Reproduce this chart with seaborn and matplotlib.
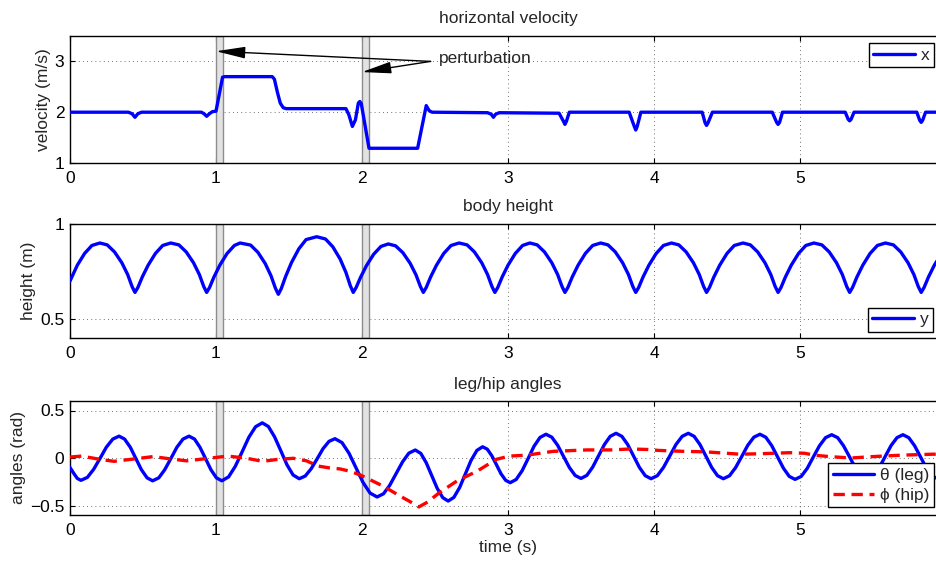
import matplotlib
matplotlib.use("Agg")
import matplotlib.pyplot as plt
from matplotlib.ticker import FuncFormatter
import seaborn as sns

# ---------------- data ----------------
perturb_times = [1.0, 2.0]
perturb_width = 0.05
arrow_targets_y = [3.2, 2.79]

# horizontal velocity (m/s)
t_vel = [0.0, 0.40, 0.425, 0.445, 0.465, 0.49, 0.90, 0.918, 0.936, 0.955, 0.975, 1.0,
         1.045, 1.06, 1.385, 1.40, 1.42, 1.44, 1.46, 1.48, 1.89, 1.91, 1.934, 1.955,
         1.975, 1.985, 1.995, 2.048, 2.381, 2.44, 2.46, 2.48,
         2.86, 2.885, 2.90, 2.915, 2.94,
         3.35, 3.38, 3.39, 3.40, 3.42,
         3.83, 3.865, 3.875, 3.885, 3.91,
         4.33, 4.35, 4.36, 4.37, 4.40,
         4.81, 4.84, 4.85, 4.86, 4.88,
         5.31, 5.33, 5.34, 5.35, 5.37,
         5.80, 5.82, 5.83, 5.84, 5.86, 6.0]
vel = [2.0, 2.0, 1.97, 1.90, 1.97, 2.0, 2.0, 1.97, 1.92, 1.97, 2.01, 2.02,
       2.69, 2.70, 2.70, 2.65, 2.40, 2.18, 2.09, 2.07, 2.07, 1.95, 1.72, 1.85,
       2.18, 2.21, 2.17, 1.29, 1.29, 2.13, 2.03, 2.0,
       1.99, 1.96, 1.90, 1.96, 1.99,
       1.98, 1.82, 1.76, 1.82, 2.0,
       2.0, 1.72, 1.65, 1.72, 2.0,
       2.0, 1.79, 1.74, 1.79, 2.0,
       2.0, 1.80, 1.76, 1.80, 2.0,
       2.0, 1.86, 1.83, 1.86, 2.0,
       2.0, 1.84, 1.80, 1.84, 2.0, 2.0]

# body height (m)
t_height = [0.0, 0.05, 0.10, 0.15, 0.205, 0.255, 0.305, 0.355, 0.395, 0.425, 0.445,
            0.465, 0.495, 0.535, 0.585, 0.635, 0.69, 0.746, 0.796, 0.846, 0.886, 0.916, 0.936,
            0.956, 0.986, 1.026, 1.076, 1.126, 1.165, 1.237, 1.287, 1.337, 1.377, 1.407, 1.427,
            1.447, 1.477, 1.517, 1.567, 1.617, 1.69, 1.75, 1.80, 1.85, 1.89, 1.92, 1.94,
            1.96, 1.99, 2.03, 2.08, 2.13, 2.18, 2.23, 2.28, 2.33, 2.37, 2.40, 2.42,
            2.44, 2.47, 2.51, 2.56, 2.61, 2.665, 2.72, 2.77, 2.82, 2.86, 2.89, 2.91,
            2.93, 2.96, 3.00, 3.05, 3.10, 3.15, 3.20, 3.25, 3.30, 3.34, 3.37, 3.39,
            3.41, 3.44, 3.48, 3.53, 3.58, 3.635, 3.685, 3.735, 3.785, 3.825, 3.855, 3.875,
            3.895, 3.925, 3.965, 4.015, 4.065, 4.12, 4.17, 4.22, 4.27, 4.31, 4.34, 4.36,
            4.38, 4.41, 4.45, 4.50, 4.55, 4.61, 4.66, 4.71, 4.76, 4.80, 4.83, 4.85,
            4.87, 4.90, 4.94, 4.99, 5.04, 5.095, 5.15, 5.20, 5.25, 5.29, 5.32, 5.34,
            5.36, 5.39, 5.43, 5.48, 5.53, 5.585, 5.64, 5.69, 5.74, 5.78, 5.81, 5.83,
            5.85, 5.88, 5.92, 5.97, 6.02]
height = [0.70, 0.783, 0.845, 0.887, 0.90, 0.890, 0.853, 0.796, 0.734, 0.671, 0.64,
          0.666, 0.721, 0.783, 0.845, 0.887, 0.90, 0.890, 0.853, 0.796, 0.734, 0.671, 0.64,
          0.666, 0.721, 0.783, 0.845, 0.887, 0.90, 0.889, 0.851, 0.792, 0.727, 0.662, 0.63,
          0.660, 0.724, 0.797, 0.869, 0.918, 0.933, 0.921, 0.880, 0.816, 0.745, 0.675, 0.64,
          0.666, 0.719, 0.780, 0.841, 0.882, 0.895, 0.885, 0.849, 0.793, 0.732, 0.671, 0.64,
          0.666, 0.721, 0.783, 0.845, 0.887, 0.90, 0.890, 0.853, 0.796, 0.734, 0.671, 0.64,
          0.666, 0.721, 0.783, 0.845, 0.887, 0.90, 0.890, 0.853, 0.796, 0.734, 0.671, 0.64,
          0.666, 0.721, 0.783, 0.845, 0.887, 0.90, 0.890, 0.853, 0.796, 0.734, 0.671, 0.64,
          0.666, 0.721, 0.783, 0.845, 0.887, 0.90, 0.890, 0.853, 0.796, 0.734, 0.671, 0.64,
          0.666, 0.721, 0.783, 0.845, 0.887, 0.90, 0.890, 0.853, 0.796, 0.734, 0.671, 0.64,
          0.666, 0.721, 0.783, 0.845, 0.887, 0.90, 0.890, 0.853, 0.796, 0.734, 0.671, 0.64,
          0.666, 0.721, 0.783, 0.845, 0.887, 0.90, 0.890, 0.853, 0.796, 0.734, 0.671, 0.64,
          0.666, 0.721, 0.783, 0.845, 0.887]

# leg angle theta (rad)
t_theta = [0.0, 0.025, 0.05, 0.075,
           0.119, 0.162, 0.206, 0.249, 0.293, 0.336,
           0.374, 0.413, 0.451, 0.489, 0.528, 0.566,
           0.608, 0.649, 0.691, 0.732, 0.774, 0.815,
           0.853, 0.89, 0.928, 0.965, 1.003, 1.04,
           1.086, 1.132, 1.179, 1.225, 1.271, 1.317,
           1.359, 1.401, 1.444, 1.486, 1.528, 1.57,
           1.611, 1.652, 1.693, 1.733, 1.774, 1.815,
           1.863, 1.911, 1.959, 2.007, 2.055, 2.103,
           2.147, 2.190, 2.234, 2.278, 2.321, 2.365,
           2.403, 2.44, 2.478, 2.515, 2.553, 2.59,
           2.629, 2.669, 2.708, 2.747, 2.787, 2.826,
           2.858, 2.889, 2.921, 2.952, 2.984, 3.015,
           3.056, 3.097, 3.138, 3.178, 3.219, 3.26,
           3.30, 3.34, 3.38, 3.42, 3.46, 3.50,
           3.54, 3.58, 3.62, 3.66, 3.70, 3.74,
           3.78, 3.82, 3.86, 3.90, 3.94, 3.98,
           4.023, 4.065, 4.108, 4.15, 4.193, 4.235,
           4.275, 4.315, 4.355, 4.395, 4.435, 4.475,
           4.517, 4.559, 4.601, 4.642, 4.684, 4.726,
           4.766, 4.806, 4.846, 4.886, 4.926, 4.966,
           5.008, 5.05, 5.091, 5.133, 5.175, 5.217,
           5.258, 5.298, 5.339, 5.379, 5.42, 5.46,
           5.501, 5.542, 5.583, 5.623, 5.664, 5.705,
           5.745, 5.785, 5.825, 5.865, 5.905, 5.945, 6.0]
theta = [-0.10, -0.16, -0.215, -0.235,
         -0.204, -0.119, -0.003, 0.114, 0.199, 0.23,
         0.199, 0.113, -0.005, -0.123, -0.209, -0.24,
         -0.209, -0.123, -0.005, 0.113, 0.199, 0.23,
         0.199, 0.113, -0.005, -0.123, -0.209, -0.24,
         -0.199, -0.088, 0.065, 0.218, 0.329, 0.37,
         0.331, 0.223, 0.076, -0.071, -0.179, -0.218,
         -0.19, -0.113, -0.008, 0.098, 0.175, 0.203,
         0.162, 0.05, -0.104, -0.257, -0.369, -0.41,
         -0.377, -0.287, -0.163, -0.040, 0.051, 0.084,
         0.048, -0.05, -0.185, -0.319, -0.417, -0.453,
         -0.415, -0.31, -0.168, -0.025, 0.08, 0.118,
         0.093, 0.024, -0.071, -0.166, -0.235, -0.26,
         -0.226, -0.133, -0.005, 0.123, 0.216, 0.25,
         0.219, 0.134, 0.018, -0.099, -0.184, -0.215,
         -0.183, -0.096, 0.023, 0.141, 0.228, 0.26,
         0.228, 0.141, 0.021, -0.099, -0.186, -0.218,
         -0.186, -0.099, 0.021, 0.141, 0.228, 0.26,
         0.228, 0.141, 0.021, -0.099, -0.186, -0.218,
         -0.187, -0.101, 0.016, 0.133, 0.219, 0.25,
         0.218, 0.131, 0.013, -0.106, -0.193, -0.225,
         -0.194, -0.108, 0.01, 0.128, 0.214, 0.245,
         0.214, 0.129, 0.013, -0.104, -0.189, -0.22,
         -0.189, -0.104, 0.013, 0.129, 0.214, 0.245,
         0.214, 0.129, 0.013, -0.104, -0.189, -0.22, -0.19]

# hip angle phi (rad)
t_phi = [0.0, 0.08, 0.19, 0.30, 0.44, 0.57, 0.69, 0.80, 0.94, 1.08, 1.20, 1.32,
         1.42, 1.53, 1.62, 1.70, 1.78, 1.85, 1.92, 1.99, 2.07, 2.15, 2.26, 2.33,
         2.39, 2.45, 2.53, 2.65, 2.79, 2.92, 3.01, 3.13, 3.31, 3.54, 3.70, 3.84,
         3.95, 4.03, 4.20, 4.35, 4.59, 4.73, 4.93, 5.03, 5.11, 5.20, 5.35, 5.50,
         5.70, 5.91, 6.0]
phi = [0.01, 0.02, -0.01, -0.035, -0.01, 0.015, -0.01, -0.03, -0.005, 0.02, 0.0, -0.035,
       -0.015, -0.003, -0.03, -0.085, -0.105, -0.115, -0.14, -0.18, -0.24, -0.30, -0.40, -0.46,
       -0.515, -0.463, -0.365, -0.242, -0.137, -0.014, 0.02, 0.03, 0.07, 0.085, 0.085, 0.095,
       0.09, 0.08, 0.07, 0.065, 0.04, 0.045, 0.056, 0.05, 0.028, 0.015, 0.0, 0.015,
       0.03, 0.04, 0.04]

x_ticks = [0, 1, 2, 3, 4, 5]

# ---------------- style ----------------
FS = 12.5
sns.set_style("ticks")
plt.rcParams["font.family"] = ["Liberation Sans", "DejaVu Sans"]
plt.rcParams["font.size"] = FS
plt.rcParams["axes.linewidth"] = 1.0
plt.rcParams["xtick.direction"] = "in"
plt.rcParams["ytick.direction"] = "in"
plt.rcParams["xtick.top"] = True
plt.rcParams["ytick.right"] = True
plt.rcParams["xtick.major.size"] = 3.5
plt.rcParams["ytick.major.size"] = 3.5
plt.rcParams["xtick.major.pad"] = 6
plt.rcParams["ytick.major.pad"] = 4
plt.rcParams["legend.fancybox"] = False
plt.rcParams["axes.unicode_minus"] = True

BLUE = "#0000ff"
RED = "#ff0000"
LW = 2.4

fig = plt.figure(figsize=(9.37, 5.62), dpi=100)
W = 876 / 937
L = 70 / 937
ax1 = fig.add_axes([L, 1 - 163 / 562, W, 127 / 562])
ax2 = fig.add_axes([L, 1 - 338 / 562, W, 114 / 562])
ax3 = fig.add_axes([L, 1 - 515 / 562, W, 114 / 562])

fmt = FuncFormatter(lambda v, p: ("%g" % v).replace("-", "\u2212"))


def common(ax, title, ylabel, ylim, yticks):
    ax.set_xlim(0, 6)
    ax.set_ylim(*ylim)
    ax.set_xticks(x_ticks)
    ax.set_yticks(yticks)
    ax.yaxis.set_major_formatter(fmt)
    ax.grid(True, linestyle=(0, (1, 4)), color="#444444", linewidth=0.6)
    ax.set_axisbelow(True)
    ax.set_title(title, fontsize=FS, pad=9)
    ax.set_ylabel(ylabel, fontsize=FS, labelpad=3)
    for tp in perturb_times:
        ax.axvspan(tp, tp + perturb_width, facecolor="#e2e2e2", edgecolor="#8c8c8c",
                   linewidth=1.0, zorder=1.5)
    for s in ax.spines.values():
        s.set_color("black")
    ax.tick_params(colors="black", labelsize=FS)


common(ax1, "horizontal velocity", "velocity (m/s)", (1, 3.5), [1, 2, 3])
common(ax2, "body height", "height (m)", (0.4, 1.0), [0.5, 1])
common(ax3, "leg/hip angles", "angles (rad)", (-0.6, 0.6), [-0.5, 0, 0.5])
ax3.set_xlabel("time (s)", fontsize=FS, labelpad=1)

sns.lineplot(x=t_vel, y=vel, ax=ax1, color=BLUE, linewidth=LW, estimator=None,
             sort=False, zorder=3)
sns.lineplot(x=t_height, y=height, ax=ax2, color=BLUE, linewidth=LW, estimator=None,
             sort=False, zorder=3)
sns.lineplot(x=t_theta, y=theta, ax=ax3, color=BLUE, linewidth=LW, estimator=None,
             sort=False, zorder=3)
sns.lineplot(x=t_phi, y=phi, ax=ax3, color=RED, linewidth=LW, estimator=None,
             sort=False, zorder=3, dashes=False)
ax3.lines[-1].set_dashes((3.4, 2.0))

# annotation
text_pos = (2.53, 3.06)
tail = (2.47, 3.0)
for tp, ty in zip(perturb_times, arrow_targets_y):
    ax1.annotate("", xy=(tp, ty), xytext=tail,
                 arrowprops=dict(arrowstyle="-|>,head_length=0.9,head_width=0.18",
                                 color="black", lw=1.0, mutation_scale=20,
                                 shrinkA=0, shrinkB=0), zorder=4)
ax1.text(text_pos[0], text_pos[1], "perturbation", fontsize=FS, va="center", ha="left",
         zorder=4)

# legends
leg_kw = dict(frameon=True, fancybox=False, framealpha=1, edgecolor="black",
              borderaxespad=0, handlelength=2.4, handletextpad=0.35, fontsize=FS,
              borderpad=0.25, labelspacing=0.3)
h1 = ax1.lines[0]
l1 = ax1.legend([h1], ["x"], loc="upper left", bbox_to_anchor=(0.9117, 0.9425), **leg_kw)
h2 = ax2.lines[0]
l2 = ax2.legend([h2], ["y"], loc="lower left", bbox_to_anchor=(0.911, 0.055), **leg_kw)
h3a, h3b = ax3.lines[0], ax3.lines[1]
l3 = ax3.legend([h3a, h3b], ["θ (leg)", "ϕ (hip)"], loc="lower left",
                bbox_to_anchor=(0.8656, 0.0675), **leg_kw)
for lg in (l1, l2, l3):
    lg.get_frame().set_linewidth(1.0)
    lg.set_zorder(5)

fig.savefig("out.png", dpi=100)
